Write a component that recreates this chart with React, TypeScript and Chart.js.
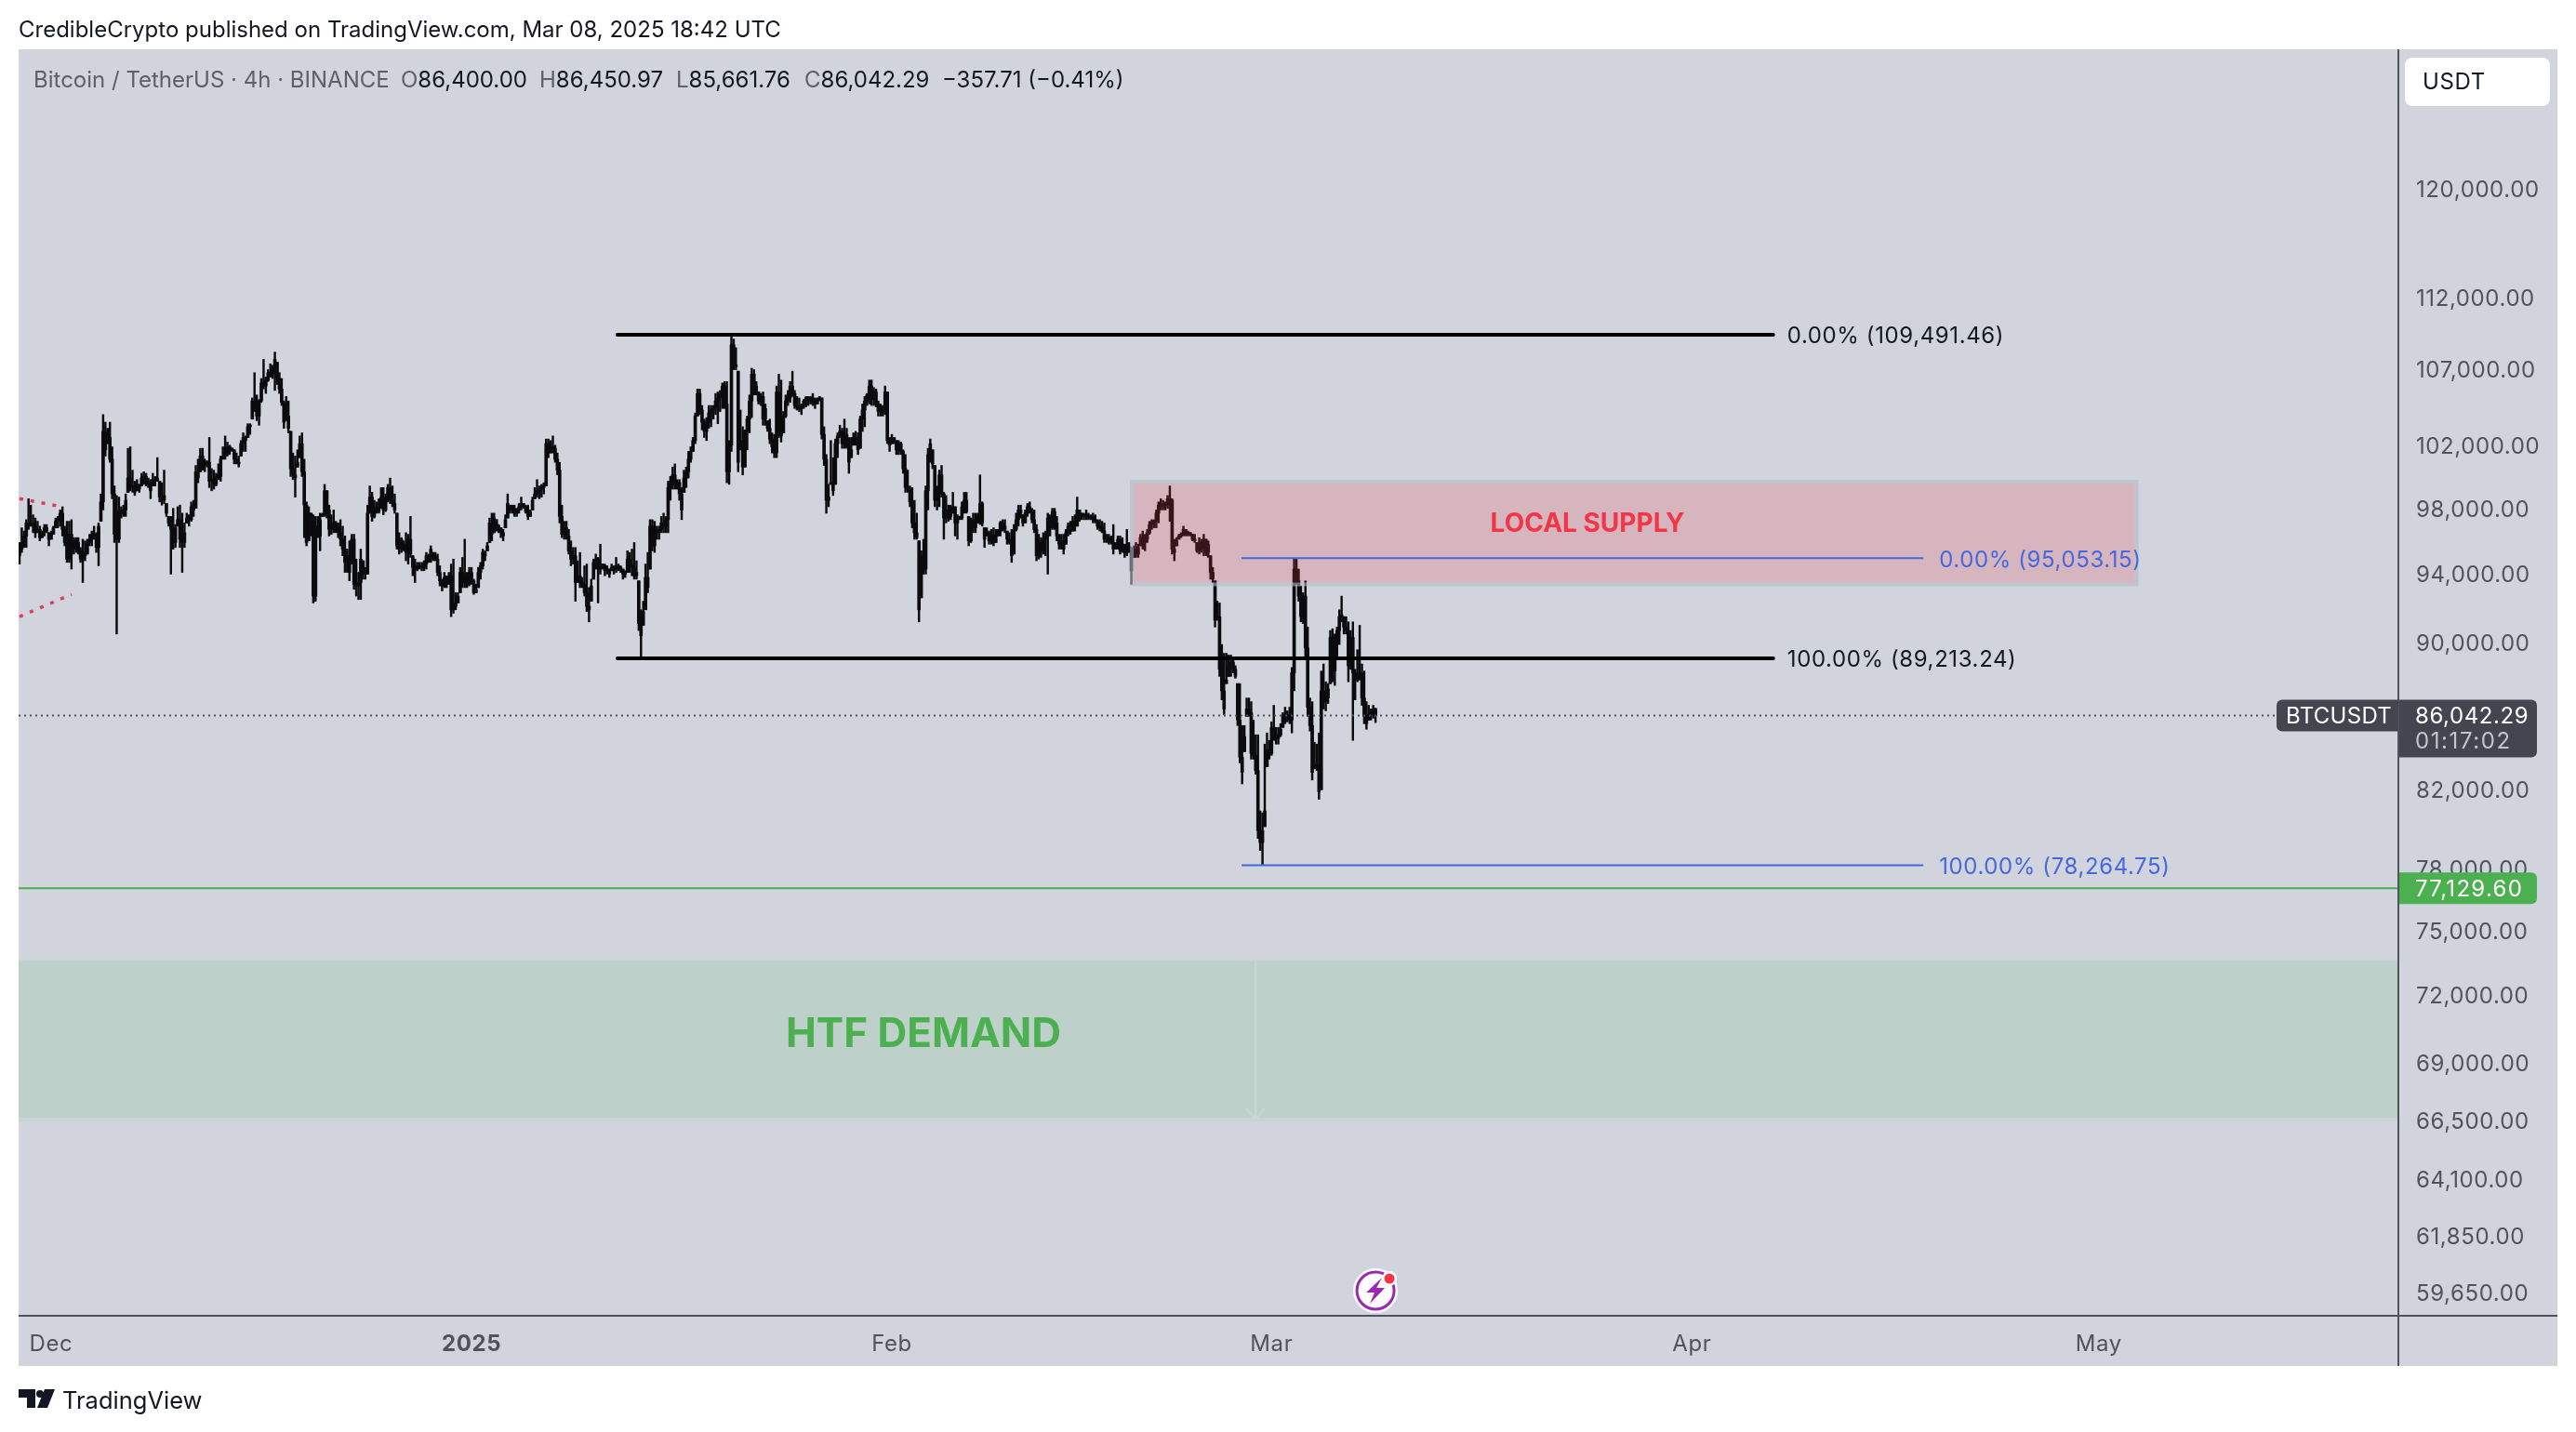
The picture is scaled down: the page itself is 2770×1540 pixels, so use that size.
import React, { useEffect, useRef } from 'react';
import Chart from 'chart.js/auto';

// candle rows: high, low, close in thousands of USDT; open is the previous close
const candlesWinter = [
  [96.0,94.7,95.6],[96.9,95.4,96.0],[96.7,95.7,96.4],[97.4,95.7,97.2],[98.7,96.8,97.0],[98.3,97.0,97.2],[97.7,96.6,97.0],[97.5,96.3,96.6],[97.3,96.6,96.8],[97.0,96.1,96.3],
  [96.7,96.3,96.6],[97.1,96.4,96.9],[97.1,96.6,96.7],[96.6,95.8,96.2],[96.7,96.2,96.5],[97.0,96.5,96.9],[97.5,96.9,97.3],[97.6,96.9,97.4],[98.0,97.0,97.8],[98.2,96.4,96.8],
  [97.0,95.8,96.0],[97.3,94.8,95.0],[97.3,94.8,96.5],[97.4,94.4,96.2],[96.3,95.3,95.6],[96.3,95.4,96.0],[96.3,95.3,95.5],[95.7,94.8,95.0],[96.2,93.6,95.4],[96.1,94.9,95.2],
  [96.2,95.3,96.0],[96.5,95.8,96.2],[96.7,95.8,96.5],[97.0,96.2,96.4],[96.6,95.4,95.7],[97.2,94.6,97.0],[99.0,97.3,98.5],[104.1,98.0,103.0],[103.6,101.4,101.8],[103.2,102.2,102.6],
  [103.6,101.0,101.2],[102.0,98.7,99.0],[99.5,96.0,96.5],[98.9,90.6,96.2],[98.8,96.0,97.9],[98.2,97.5,97.8],[98.3,97.6,98.0],[99.0,97.6,98.6],[101.9,99.1,100.0],[102.0,99.2,99.5],
  [100.5,99.1,99.4],[99.8,98.9,99.1],[99.9,99.2,99.6],[99.6,99.1,99.3],[100.3,99.5,100.0],[100.4,99.6,100.1],[100.3,99.5,99.7],[100.0,99.4,99.6],[99.9,98.7,99.2],[100.3,99.5,99.9],
  [100.1,99.5,99.8],[101.3,99.8,100.0],[99.8,98.5,98.8],[99.7,98.3,98.9],[100.5,98.4,98.6],[98.4,97.6,97.8],[97.6,97.0,97.2],[97.6,94.1,96.8],[98.1,95.6,96.0],[97.1,95.7,96.9],
  [98.2,97.0,97.4],[98.3,95.7,96.2],[97.8,94.2,96.0],[97.2,95.7,96.6],[97.8,97.2,97.5],[97.7,97.0,97.4],[98.5,97.3,98.2],[98.6,97.6,98.0],[100.8,98.1,100.4],[101.2,99.7,100.0],
  [101.9,100.4,101.4],[101.9,100.5,100.8],[101.2,100.4,100.9],[101.1,100.7,101.0],[102.6,99.4,99.8],[100.6,99.2,99.9],[100.5,99.3,99.6],[100.3,99.5,100.1],[100.9,99.9,100.1],[101.4,99.8,101.2],
  [102.0,101.2,101.4],[102.7,101.2,101.6],[102.3,101.4,102.0],[102.1,101.5,101.9],[101.9,101.7,101.8],[101.8,100.9,101.2],[101.6,100.9,101.0],[101.4,100.7,100.9],[102.4,101.4,102.2],[102.9,101.7,102.6],
  [102.7,101.7,102.4],[103.5,102.6,103.3],[103.5,102.8,103.4],[105.2,103.8,105.0],[106.9,104.3,104.6],[105.4,103.7,104.0],[105.1,103.4,105.0],[106.5,104.9,106.2],[107.8,105.8,106.0],[106.6,105.5,106.4],
  [107.1,106.3,106.9],[107.5,106.6,106.8],[107.4,106.5,107.2],[108.3,105.7,107.8],[107.6,106.1,106.5],[106.9,105.5,105.8],[106.5,104.7,104.9],[105.0,103.2,103.6],[105.3,103.7,104.0],[105.0,102.9,103.2],
  [103.0,100.1,100.6],[101.6,99.9,100.2],[101.4,98.8,100.0],[101.8,100.7,101.0],[102.7,101.3,102.2],[102.9,100.1,100.4],[101.2,96.3,98.3],[98.5,95.8,96.0],[98.2,96.1,97.8],[97.8,96.4,97.6],
  [97.7,92.4,92.8],[97.6,92.5,97.0],[97.6,96.3,96.4],[97.8,95.5,97.4],[97.8,97.6,97.7],[99.6,97.6,99.2],[99.2,97.5,98.0],[98.3,96.4,96.8],[97.7,96.5,97.0],[98.0,96.6,97.2],
  [97.3,96.6,97.0],[97.2,96.3,96.6],[97.4,95.8,96.2],[97.0,95.2,95.6],[96.4,94.2,94.8],[95.6,94.2,95.2],[96.1,93.7,94.2],[96.5,94.7,96.2],[96.5,93.2,93.5],[95.0,92.8,93.4],
  [94.2,92.6,93.6],[95.6,92.6,95.0],[94.9,93.8,94.2],[94.5,93.8,94.1],[98.3,94.1,97.8],[99.5,97.8,98.8],[99.1,97.3,97.6],[98.6,97.5,98.0],[98.5,97.8,98.2],[98.7,97.8,97.9],
  [99.4,98.1,98.8],[99.4,97.7,98.0],[99.0,97.9,98.8],[99.6,98.5,99.4],[100.0,98.4,98.6],[99.5,98.2,98.4],[99.0,97.8,98.0],[97.8,95.6,95.8],[96.6,95.3,96.2],[96.3,95.4,95.6],
  [96.1,95.5,95.9],[96.6,94.9,95.4],[96.5,94.7,96.2],[97.6,95.1,95.3],[95.2,94.0,94.5],[95.0,93.6,94.4],[94.8,94.3,94.6],[94.8,94.4,94.5],[94.8,94.3,94.5],[94.9,94.3,94.7],
  [95.4,94.4,95.2],[95.3,94.8,95.0],[95.8,94.8,95.6],[95.4,94.9,95.2],[95.4,94.9,95.0],[95.3,94.0,94.2],[94.6,93.4,93.7],[93.8,93.1,93.4],[94.2,93.3,93.9],[94.0,93.3,93.5],
  [94.2,93.5,94.0],[94.7,91.6,92.0],[95.0,91.8,92.4],[93.0,92.0,92.2],[93.0,92.4,92.8],[94.5,93.0,94.2],[95.1,93.3,93.6],[96.2,93.3,94.0],[94.2,93.3,93.5],[94.5,93.4,94.2],
  [94.5,93.5,93.7],[93.8,92.9,93.0],[93.5,93.0,93.2],[94.5,93.3,94.2],[94.8,93.8,94.6],[95.6,94.4,95.4],[95.5,94.9,95.2],[96.0,95.5,95.8],[97.5,96.0,97.2],[97.8,96.1,96.5],
  [97.8,96.6,97.5],[97.4,96.7,97.0],[97.1,96.6,96.9],[96.9,96.3,96.6],[96.8,96.1,96.4],[97.7,96.9,97.4],[99.0,97.5,98.4],[98.3,97.8,98.0],[98.3,97.8,98.1],[98.3,97.6,97.8],
  [98.1,97.6,98.0],[98.4,97.8,98.2],[98.8,98.0,98.4],[98.4,98.1,98.2],[98.3,97.8,97.9],[98.3,97.4,97.6],[98.0,97.6,97.9],[98.8,98.0,98.6],[99.4,98.7,99.0],[99.9,98.8,99.2],
  [99.5,98.7,99.3],[99.6,98.8,99.4],[99.7,99.0,99.4],[102.5,99.5,102.2],[102.5,101.3,101.6],[102.4,101.6,102.0],[102.7,101.6,101.9],[102.1,101.0,101.2],[101.6,100.2,100.5],[101.0,97.2,97.6],
  [98.3,96.3,96.5],[97.3,96.2,96.9],[97.3,96.2,96.4],[96.8,95.3,95.5],[96.1,94.6,95.0],[95.7,94.7,95.2],[95.7,92.5,93.6],[94.9,93.6,94.0],[95.4,93.3,93.6],[93.9,93.3,93.5],
  [94.6,92.8,93.0],[94.7,91.9,92.2],[93.3,91.3,92.0],[93.8,92.5,93.4],[95.0,93.8,94.8],[95.3,94.4,95.0],[95.1,92.4,94.4],[95.9,94.1,94.6],[94.7,94.4,94.6],[94.7,94.0,94.3],
  [94.6,94.1,94.4],[94.4,93.9,94.1],[94.7,94.3,94.5],[94.6,94.1,94.4],[95.1,94.2,94.6],[94.7,94.3,94.5],[94.6,94.2,94.4],[94.4,93.8,94.1],[94.3,93.9,94.2],[95.5,94.2,95.0],
  [95.4,94.2,94.6],[95.6,94.0,94.5],[96.0,93.8,94.0],[94.9,93.8,94.2],[93.7,90.8,91.2],[92.0,89.21,90.5],[92.5,91.1,91.9],[94.7,92.0,93.9],[95.4,93.0,93.3],
];

const candlesJanuary = [
  [97.4,94.4,97.0],[97.4,95.5,95.8],[97.3,95.4,96.8],[97.0,96.2,96.6],[97.0,96.2,96.8],[97.6,96.6,97.2],[97.8,96.6,97.0],[97.6,96.6,97.4],[99.8,96.6,99.4],[100.1,98.6,99.8],
  [100.7,99.3,100.2],[100.9,99.3,99.6],[99.9,99.3,99.7],[99.9,98.6,99.0],[99.4,97.4,98.0],[100.5,99.1,100.0],[100.7,99.4,100.4],[101.7,100.0,101.2],[102.0,101.0,101.7],[102.6,101.7,102.4],
  [104.2,102.2,104.0],[105.8,104.0,105.5],[105.8,104.1,104.4],[104.7,103.1,103.6],[103.8,102.6,103.0],[103.9,102.4,103.6],[104.7,103.2,104.2],[104.7,103.3,104.4],[104.7,103.8,104.5],[105.5,104.1,105.0],
  [105.6,103.5,105.2],[105.7,104.3,105.5],[106.2,104.5,106.0],[106.3,104.5,104.8],[106.3,99.7,100.4],[102.4,99.6,102.1],[109.49,101.7,108.8],[109.2,107.1,107.4],[108.6,107.1,107.3],[107.0,100.4,101.0],
  [104.4,101.8,102.4],[103.3,100.2,100.7],[103.1,100.7,103.0],[104.0,101.8,103.8],[105.4,102.9,105.0],[107.2,103.9,106.8],[107.1,105.4,106.0],[106.3,105.4,105.6],[105.6,104.8,105.0],[105.5,104.7,105.3],
  [105.6,103.4,103.8],[104.8,103.4,104.5],[103.7,103.0,103.2],[103.8,102.2,102.5],[102.9,101.6,102.0],[102.8,101.3,101.6],[106.0,101.3,105.6],[106.8,102.6,103.0],[106.4,102.3,102.7],[104.3,102.9,104.0],
  [105.4,103.9,105.0],[105.7,104.7,105.2],[106.3,104.9,106.0],[107.0,105.3,105.5],[105.7,104.5,104.7],[105.3,104.4,104.6],[105.2,104.3,104.5],[104.8,104.1,104.7],[105.1,104.5,105.0],[105.3,104.6,105.2],
  [105.3,104.7,105.0],[105.3,104.8,105.2],[105.5,104.7,104.9],[105.2,104.5,104.8],[105.2,104.8,105.1],[105.3,105.0,105.2],[105.2,102.5,102.8],[103.3,100.8,101.2],[101.5,97.8,98.6],[99.6,98.2,98.8],
  [102.4,99.6,99.7],[101.3,98.9,99.2],[102.5,99.6,102.2],[102.9,101.3,102.7],[103.4,102.6,103.0],[103.2,101.9,102.2],[103.8,101.9,102.8],[103.2,101.9,102.0],[102.6,100.3,101.0],[102.6,101.3,101.8],
  [102.9,102.1,102.6],[103.0,102.1,102.3],[102.9,101.5,101.8],[104.0,101.9,103.8],[104.8,103.0,104.4],[105.3,103.3,105.0],[105.5,104.7,105.4],[106.4,104.8,106.0],[106.4,104.7,105.1],[105.9,104.7,105.6],
  [105.8,104.6,104.8],[105.0,104.0,104.3],[104.8,104.0,104.6],[104.7,104.0,104.2],[106.0,104.1,105.6],[105.6,102.2,102.4],[102.6,101.7,102.1],[102.8,102.2,102.6],[102.6,102.2,102.4],[102.4,101.5,101.8],
  [102.4,101.5,102.2],[102.3,101.5,101.7],[101.8,100.3,100.6],[101.5,99.1,99.4],[100.5,99.1,99.3],[99.5,98.2,98.5],[99.4,96.9,97.2],[98.6,96.2,96.6],[97.8,96.2,96.3],[96.1,91.3,92.0],
  [95.5,92.7,95.2],[96.2,94.1,94.4],[99.5,94.1,99.2],[101.9,98.0,101.5],[102.5,101.0,102.2],[101.8,100.6,100.9],[100.8,98.2,98.6],[99.5,98.0,99.0],[100.5,98.2,100.2],[100.8,98.8,99.0],
  [99.1,96.2,97.5],[98.9,97.2,97.6],[98.3,97.3,98.0],[98.3,97.4,97.6],[99.1,97.8,98.2],[98.2,96.4,97.2],[97.7,96.2,97.5],[97.6,97.4,97.5],[98.5,97.4,98.2],[99.1,97.8,98.6],
  [99.1,97.8,97.9],[97.6,95.8,96.1],[97.5,96.0,96.9],[97.8,96.6,97.4],[97.8,96.6,96.9],[97.8,97.2,97.6],[100.2,97.1,98.4],[98.5,97.0,97.2],[96.9,95.7,96.2],[96.9,96.4,96.6],
  [96.7,95.9,96.1],[96.8,95.9,96.5],[96.9,95.8,96.0],[96.8,96.0,96.4],[96.8,96.4,96.7],[97.3,96.4,97.2],[97.4,96.7,97.0],[97.4,96.6,96.8],[96.7,95.9,96.2],[96.6,95.9,96.0],
  [96.8,94.8,95.2],[97.1,95.3,96.8],[97.8,96.7,97.4],[98.3,97.0,98.0],[98.3,97.5,97.8],[97.7,97.0,97.2],[98.0,97.2,97.8],[98.4,97.6,98.2],[98.5,97.8,97.9],[98.1,97.2,97.4],
  [98.0,96.6,96.8],[97.1,94.9,95.2],[96.5,95.0,96.0],[96.3,95.1,95.5],[96.6,95.3,96.2],[96.7,95.2,96.4],[97.8,94.1,97.5],[97.7,96.4,96.9],[98.1,96.8,97.9],[98.1,96.8,97.2],
  [97.6,96.1,96.4],[96.5,95.6,95.9],[96.5,95.6,96.1],[96.5,95.3,95.6],[96.8,95.9,96.6],[97.2,96.4,97.0],[97.3,96.5,96.7],[97.6,96.7,97.3],[97.7,96.7,97.0],[98.8,97.0,98.0],
  [98.0,97.3,97.8],[97.8,97.4,97.6],[97.8,97.4,97.7],[98.0,97.4,97.6],[97.8,97.4,97.5],[97.7,97.4,97.6],[97.8,97.2,97.4],[97.7,97.2,97.3],[97.4,96.8,97.0],[97.4,96.7,96.9],
  [97.3,96.6,96.7],[97.2,96.0,96.2],[96.5,96.0,96.3],[96.5,95.9,96.1],[96.4,95.9,96.0],[97.1,95.3,95.6],[96.0,95.6,95.8],[96.4,95.6,96.2],[96.4,95.3,95.5],[96.3,95.4,95.9],
  [95.9,95.1,95.4],[96.8,95.2,95.5],[96.0,95.4,95.8],
];

const candlesLate = [
  [95.7,93.5,94.3],[95.8,95.1,95.6],[96.0,95.1,95.3],[95.9,95.1,95.7],[96.5,95.8,96.3],[96.7,95.6,96.0],[96.5,95.5,96.2],[96.8,96.0,96.6],[97.3,96.5,97.1],[97.4,96.8,97.2],
  [97.4,96.9,97.3],[98.0,96.9,97.8],[98.5,97.2,98.3],[98.7,98.0,98.2],[98.6,98.0,98.4],[98.5,98.0,98.3],[98.9,98.1,98.7],[99.5,97.3,98.6],[98.7,95.3,95.6],[96.2,94.9,95.4],
  [96.3,95.8,96.1],[96.5,96.2,96.4],[96.6,96.3,96.5],[97.0,96.4,96.8],[96.8,96.4,96.5],[96.7,96.4,96.6],[96.6,96.4,96.5],[96.5,96.1,96.2],[96.5,96.0,96.1],[96.0,95.4,95.5],
  [96.3,95.3,96.0],[96.2,95.4,95.6],[96.5,95.2,96.2],[96.2,95.2,95.4],[96.1,95.1,95.9],[95.2,93.8,94.2],[94.5,93.6,93.8],[93.7,91.0,91.4],[92.5,91.4,91.6],[92.4,88.2,88.6],
  [90.0,86.9,87.4],[89.5,86.1,86.4],[89.5,87.8,88.0],[89.4,88.2,88.8],[89.4,88.2,89.0],[89.3,88.4,88.6],[88.8,88.1,88.2],[87.8,85.5,85.8],[87.8,83.5,83.8],[85.5,82.4,83.0],
  [85.5,84.1,84.9],[87.0,86.0,86.4],[87.0,86.0,86.2],[86.8,83.7,84.0],[85.8,83.7,83.9],[85.0,82.9,83.1],[85.0,79.6,80.0],[81.0,79.0,79.4],[80.9,78.26,80.0],[84.5,80.2,81.0],
  [85.1,83.3,84.2],[84.7,83.7,84.0],[85.7,83.9,85.4],[86.6,84.7,85.0],[85.4,84.5,84.8],[85.4,84.5,85.0],[85.6,84.9,85.3],[86.2,85.4,86.0],[86.5,85.6,86.1],[86.3,85.7,85.9],
  [86.5,85.6,85.8],[88.7,85.1,88.4],[95.05,87.4,94.4],[95.0,93.5,93.7],[94.4,92.5,92.8],[93.4,91.3,91.6],[93.0,91.2,92.8],[93.7,89.3,89.8],[91.0,86.0,86.5],[87.0,85.2,85.5],
  [86.8,82.6,83.0],[84.6,83.2,83.4],[84.5,83.1,83.3],[85.1,81.6,82.0],[88.5,82.1,87.4],[88.9,86.4,86.8],[87.9,86.3,87.0],[87.8,86.7,87.5],[90.8,87.8,90.4],[90.9,87.9,88.5],
  [90.6,87.7,90.2],[91.0,89.2,90.8],[92.0,90.0,91.6],[92.8,91.3,91.6],[91.6,90.6,91.0],[91.6,90.6,90.8],[91.3,87.9,88.8],[90.8,88.6,90.4],[91.3,84.7,88.4],[88.6,86.9,88.0],
  [89.7,87.9,88.2],[91.1,88.0,88.4],[88.9,86.6,87.0],[88.5,85.6,86.0],[86.8,85.3,85.6],[86.6,85.8,86.1],[86.4,85.8,86.2],[86.6,85.9,86.4],[86.45,85.66,86.04],
];

const priceTicks = [120000, 112000, 107000, 102000, 98000, 94000, 90000, 82000, 78000, 75000, 72000, 69000, 66500, 64100, 61850, 59650];
const timeTickBars = [14, 200, 386, 554, 740, 920];
const timeTickLabels = ['Dec', '2025', 'Feb', 'Mar', 'Apr', 'May'];

const fibHigh = [109491.46, 89213.24];
const fibHighLabels = ['0.00% (109,491.46)', '100.00% (89,213.24)'];
const fibHighBars = [264.6, 776];
const fibLow = [95053.15, 78264.75];
const fibLowLabels = ['0.00% (95,053.15)', '100.00% (78,264.75)'];
const fibLowBars = [540.7, 842.4];

const lastPrice = 86042.29;
const supportPrice = 77129.6;
const supplyZone = { fromBar: 492.2, toBar: 936.8, top: 99770, bottom: 93490, labelBar: 693.8, labelPrice: 97220 };
const demandZone = { top: 73700, bottom: 66700, lineBar: 546.9, labelBar: 400, labelPrice: 70370 };
const pitchUpper = [[0, 98700], [19, 98200]];
const pitchLower = [[0, 91600], [23, 92900]];

const allCandles = [...candlesWinter, ...candlesJanuary, ...candlesLate];
const wickData = allCandles.map((c, i) => ({ x: i, y: [c[1] * 1000, c[0] * 1000] }));
const bodyData = allCandles.map((c, i) => {
  const open = i > 0 ? allCandles[i - 1][2] : c[2] - 0.4;
  const a = Math.min(c[0], Math.max(c[1], open));
  const b = c[2];
  return { x: i, y: [Math.min(a, b) * 1000, Math.max(a, b) * 1000] };
});

const X_MIN = -0.4;
const X_MAX = 1052.6;
const FONT = 'Inter';
const AXIS_TEXT = '#50535e';
const TEXT_SPACING = '0.6px';

const hLine = (price: number, bars: number[], color: string, width: number, extra = {}) => ({
  type: 'line' as const,
  data: bars.map((x) => ({ x, y: price })),
  borderColor: color,
  borderWidth: width,
  pointRadius: 0,
  order: 1,
  ...extra,
});

const overlayPlugin = {
  id: 'overlay',
  beforeDraw(chart: any) {
    const { ctx } = chart;
    ctx.save();
    ctx.fillStyle = '#ffffff';
    ctx.fillRect(0, 0, chart.width, chart.height);
    ctx.fillStyle = '#d1d4dc';
    ctx.fillRect(20, 53, 2730, 1416);
    ctx.restore();
    // left set on purpose so the scale labels pick it up too
    ctx.letterSpacing = TEXT_SPACING;
  },
  beforeDatasetsDraw(chart: any) {
    const { ctx, chartArea: a, scales } = chart;
    const top = scales.y.getPixelForValue(demandZone.top);
    const bottom = scales.y.getPixelForValue(demandZone.bottom);
    const lx = scales.x.getPixelForValue(demandZone.lineBar);
    ctx.save();
    ctx.fillStyle = '#bed0ca';
    ctx.fillRect(a.left, top, a.right - a.left, bottom - top);
    ctx.fillStyle = '#c9d2d4';
    ctx.fillRect(a.left, bottom, a.right - a.left, 4);
    ctx.strokeStyle = '#c7d6d3';
    ctx.lineWidth = 3;
    ctx.beginPath();
    ctx.moveTo(lx, top);
    ctx.lineTo(lx, bottom + 2);
    ctx.moveTo(lx - 10, bottom - 10);
    ctx.lineTo(lx, bottom + 1);
    ctx.lineTo(lx + 10, bottom - 10);
    ctx.stroke();
    ctx.restore();
  },
  afterDatasetDraw(chart: any, args: any) {
    // supply box sits on top of the candles, under the fib lines
    if (args.index !== 1) return;
    const { ctx, scales } = chart;
    const l = scales.x.getPixelForValue(supplyZone.fromBar);
    const r = scales.x.getPixelForValue(supplyZone.toBar);
    const t = scales.y.getPixelForValue(supplyZone.top);
    const b = scales.y.getPixelForValue(supplyZone.bottom);
    ctx.save();
    ctx.fillStyle = 'rgba(235, 62, 75, 0.2)';
    ctx.fillRect(l + 2, t + 2, r - l - 4, b - t - 4);
    ctx.strokeStyle = 'rgba(179, 185, 198, 0.6)';
    ctx.lineWidth = 4;
    ctx.strokeRect(l, t, r - l, b - t);
    ctx.restore();
  },
  afterDraw(chart: any) {
    const { ctx, chartArea: a, scales } = chart;
    const x = scales.x;
    const y = scales.y;
    ctx.save();

    // axis lines
    ctx.fillStyle = AXIS_TEXT;
    ctx.fillRect(a.right - 1, 53, 2, 1416);
    ctx.fillRect(20, a.bottom - 1, 2730, 2);

    ctx.textBaseline = 'middle';
    ctx.textAlign = 'left';
    ctx.font = `24px ${FONT}`;

    ctx.fillStyle = '#131722';
    fibHigh.forEach((p, i) => {
      ctx.fillText(fibHighLabels[i], x.getPixelForValue(fibHighBars[1]) + 15, y.getPixelForValue(p) + 2);
    });
    ctx.fillStyle = '#4468dd';
    fibLow.forEach((p, i) => {
      ctx.fillText(fibLowLabels[i], x.getPixelForValue(fibLowBars[1]) + 17, y.getPixelForValue(p) + 2);
    });

    ctx.letterSpacing = '0px';
    ctx.textAlign = 'center';
    ctx.fillStyle = '#f23645';
    ctx.font = `700 28px ${FONT}`;
    ctx.fillText('LOCAL SUPPLY', x.getPixelForValue(supplyZone.labelBar), y.getPixelForValue(supplyZone.labelPrice) + 2);
    ctx.fillStyle = '#4caf50';
    ctx.font = `700 44px ${FONT}`;
    ctx.fillText('HTF DEMAND', x.getPixelForValue(demandZone.labelBar), y.getPixelForValue(demandZone.labelPrice) + 2);

    // price tags on the scale
    const lastY = y.getPixelForValue(lastPrice);
    const greenY = y.getPixelForValue(supportPrice);
    ctx.textAlign = 'left';
    ctx.font = `24px ${FONT}`;
    ctx.fillStyle = '#434651';
    ctx.beginPath();
    ctx.roundRect(a.left + 2428, lastY - 17, a.right - a.left - 2428, 34, [6, 0, 0, 6]);
    ctx.fill();
    ctx.beginPath();
    ctx.roundRect(a.right + 1, lastY - 17, 148, 62, [0, 6, 6, 0]);
    ctx.fill();
    ctx.fillStyle = '#ffffff';
    ctx.letterSpacing = '0.3px';
    ctx.fillText('BTCUSDT', a.left + 2438, lastY + 1);
    ctx.letterSpacing = TEXT_SPACING;
    ctx.fillText('86,042.29', a.right + 18, lastY + 1);
    ctx.fillStyle = '#c3c5cc';
    ctx.letterSpacing = '1.6px';
    ctx.fillText('01:17:02', a.right + 18, lastY + 28);

    ctx.fillStyle = '#4caf50';
    ctx.beginPath();
    ctx.roundRect(a.right + 1, greenY - 17, 148, 34, [0, 6, 6, 0]);
    ctx.fill();
    ctx.fillStyle = '#ffffff';
    ctx.letterSpacing = '1.3px';
    ctx.fillText('77,129.60', a.right + 18, greenY + 1);
    ctx.letterSpacing = TEXT_SPACING;

    // currency button
    ctx.fillStyle = '#ffffff';
    ctx.beginPath();
    ctx.roundRect(2586, 62, 156, 52, 8);
    ctx.fill();
    ctx.fillStyle = '#131722';
    ctx.fillText('USDT', 2605, 89);

    // ideas badge
    const bx = x.getPixelForValue(600);
    const by = a.bottom - 27;
    ctx.fillStyle = '#ffffff';
    ctx.beginPath();
    ctx.arc(bx, by, 24, 0, Math.PI * 2);
    ctx.fill();
    ctx.strokeStyle = '#9c27b0';
    ctx.lineWidth = 3;
    ctx.beginPath();
    ctx.arc(bx, by, 20, 0, Math.PI * 2);
    ctx.stroke();
    ctx.fillStyle = '#9c27b0';
    ctx.beginPath();
    ctx.moveTo(bx + 7, by - 14);
    ctx.lineTo(bx - 10, by + 2);
    ctx.lineTo(bx - 1, by + 2);
    ctx.lineTo(bx - 6, by + 14);
    ctx.lineTo(bx + 10, by - 3);
    ctx.lineTo(bx + 1, by - 3);
    ctx.closePath();
    ctx.fill();
    ctx.fillStyle = '#ffffff';
    ctx.beginPath();
    ctx.arc(bx + 15, by - 13, 8, 0, Math.PI * 2);
    ctx.fill();
    ctx.fillStyle = '#f23645';
    ctx.beginPath();
    ctx.arc(bx + 15, by - 13, 5.5, 0, Math.PI * 2);
    ctx.fill();

    ctx.restore();
  },
};

const legendParts: [string, string, number][] = [
  ['O', '86,400.00', 431],
  ['H', '86,450.97', 580],
  ['L', '85,661.76', 727],
  ['C', '86,042.29', 865],
];

const abs = (left: number, top: number, extra: React.CSSProperties = {}): React.CSSProperties => ({
  position: 'absolute',
  left,
  top,
  lineHeight: '30px',
  fontSize: 24,
  fontFamily: FONT,
  whiteSpace: 'nowrap',
  ...extra,
});

export default function App() {
  const canvasRef = useRef<HTMLCanvasElement>(null);

  useEffect(() => {
    document.body.style.margin = '0';
    const ctx = canvasRef.current?.getContext('2d');
    if (!ctx) return;

    const chart = new Chart(ctx, {
      type: 'bar',
      data: {
        datasets: [
          { label: 'wick', data: wickData as any, backgroundColor: '#0b0b0e', barThickness: 1.8, grouped: false, order: 3 },
          { label: 'body', data: bodyData as any, backgroundColor: '#0b0b0e', barThickness: 3, grouped: false, minBarLength: 2, order: 2 },
          hLine(fibHigh[0], fibHighBars, '#000000', 4, { borderCapStyle: 'round' }),
          hLine(fibHigh[1], fibHighBars, '#000000', 4, { borderCapStyle: 'round' }),
          hLine(fibLow[0], fibLowBars, '#4468dd', 2),
          hLine(fibLow[1], fibLowBars, '#4468dd', 2),
          hLine(lastPrice, [X_MIN, 998.8], '#50535e', 2, { borderDash: [2, 4] }),
          hLine(supportPrice, [X_MIN, X_MAX], '#4caf50', 2),
          {
            type: 'line' as const,
            data: pitchUpper.map((p) => ({ x: p[0], y: p[1] })),
            borderColor: '#e5395b',
            borderWidth: 3.5,
            borderDash: [4, 8],
            pointRadius: 0,
            order: 1,
          },
          {
            type: 'line' as const,
            data: pitchLower.map((p) => ({ x: p[0], y: p[1] })),
            borderColor: '#e5395b',
            borderWidth: 3.5,
            borderDash: [4, 8],
            pointRadius: 0,
            order: 1,
          },
        ] as any,
      },
      options: {
        animation: false,
        responsive: false,
        devicePixelRatio: 1,
        layout: { padding: { left: 20, top: 53, right: 20, bottom: 71 } },
        plugins: { legend: { display: false }, tooltip: { enabled: false } },
        scales: {
          x: {
            type: 'linear',
            offset: false,
            min: X_MIN,
            max: X_MAX,
            grid: { display: false },
            border: { display: false },
            afterFit: (scale: any) => {
              scale.height = 54;
            },
            afterBuildTicks: (scale: any) => {
              scale.ticks = timeTickBars.map((value) => ({ value }));
            },
            ticks: {
              autoSkip: false,
              maxRotation: 0,
              padding: 8,
              color: AXIS_TEXT,
              font: (c: any) => ({ family: FONT, size: 24, weight: c.index === 1 ? 'bold' : 'normal' }),
              callback: (v: any) => timeTickLabels[timeTickBars.indexOf(Number(v))],
            },
          },
          y: {
            type: 'logarithmic',
            position: 'right',
            min: 58845,
            max: 131180,
            grid: { display: false },
            border: { display: false },
            afterFit: (scale: any) => {
              scale.width = 171;
            },
            afterBuildTicks: (scale: any) => {
              scale.ticks = priceTicks.map((value) => ({ value }));
            },
            ticks: {
              autoSkip: false,
              padding: 11,
              color: AXIS_TEXT,
              font: { family: FONT, size: 24 },
              callback: (v: any) =>
                Number(v).toLocaleString('en-US', { minimumFractionDigits: 2, maximumFractionDigits: 2 }),
            },
          },
        },
      } as any,
      plugins: [overlayPlugin],
    });

    return () => chart.destroy();
  }, []);

  return (
    <div style={{ position: 'relative', width: 2770, height: 1540, background: '#fff', overflow: 'hidden' }}>
      <canvas ref={canvasRef} width={2770} height={1540} style={{ position: 'absolute', left: 0, top: 0 }} />
      <div style={abs(20, 17, { color: '#131722' })}>CredibleCrypto published on TradingView.com, Mar 08, 2025 18:42 UTC</div>
      <div style={abs(36, 71, { color: '#5d606b' })}>Bitcoin / TetherUS · 4h · BINANCE</div>
      {legendParts.map(([k, v, left]) => (
        <div key={k} style={abs(left, 71, { color: '#5d606b' })}>
          {k}
          <span style={{ color: '#131722' }}>{v}</span>
        </div>
      ))}
      <div style={abs(1013, 71, { color: '#131722' })}>−357.71 (−0.41%)</div>
      <svg width={40} height={20} viewBox="0 0 40 20" style={{ position: 'absolute', left: 20, top: 1494 }}>
        <path d="M0 0H18V20H9V9H0Z" fill="#131722" />
        <circle cx={23} cy={5} r={4} fill="#131722" />
        <path d="M28 0H39L31 20H20Z" fill="#131722" />
      </svg>
      <div style={abs(67, 1491, { color: '#131722', fontSize: 25.5 })}>TradingView</div>
    </div>
  );
}
